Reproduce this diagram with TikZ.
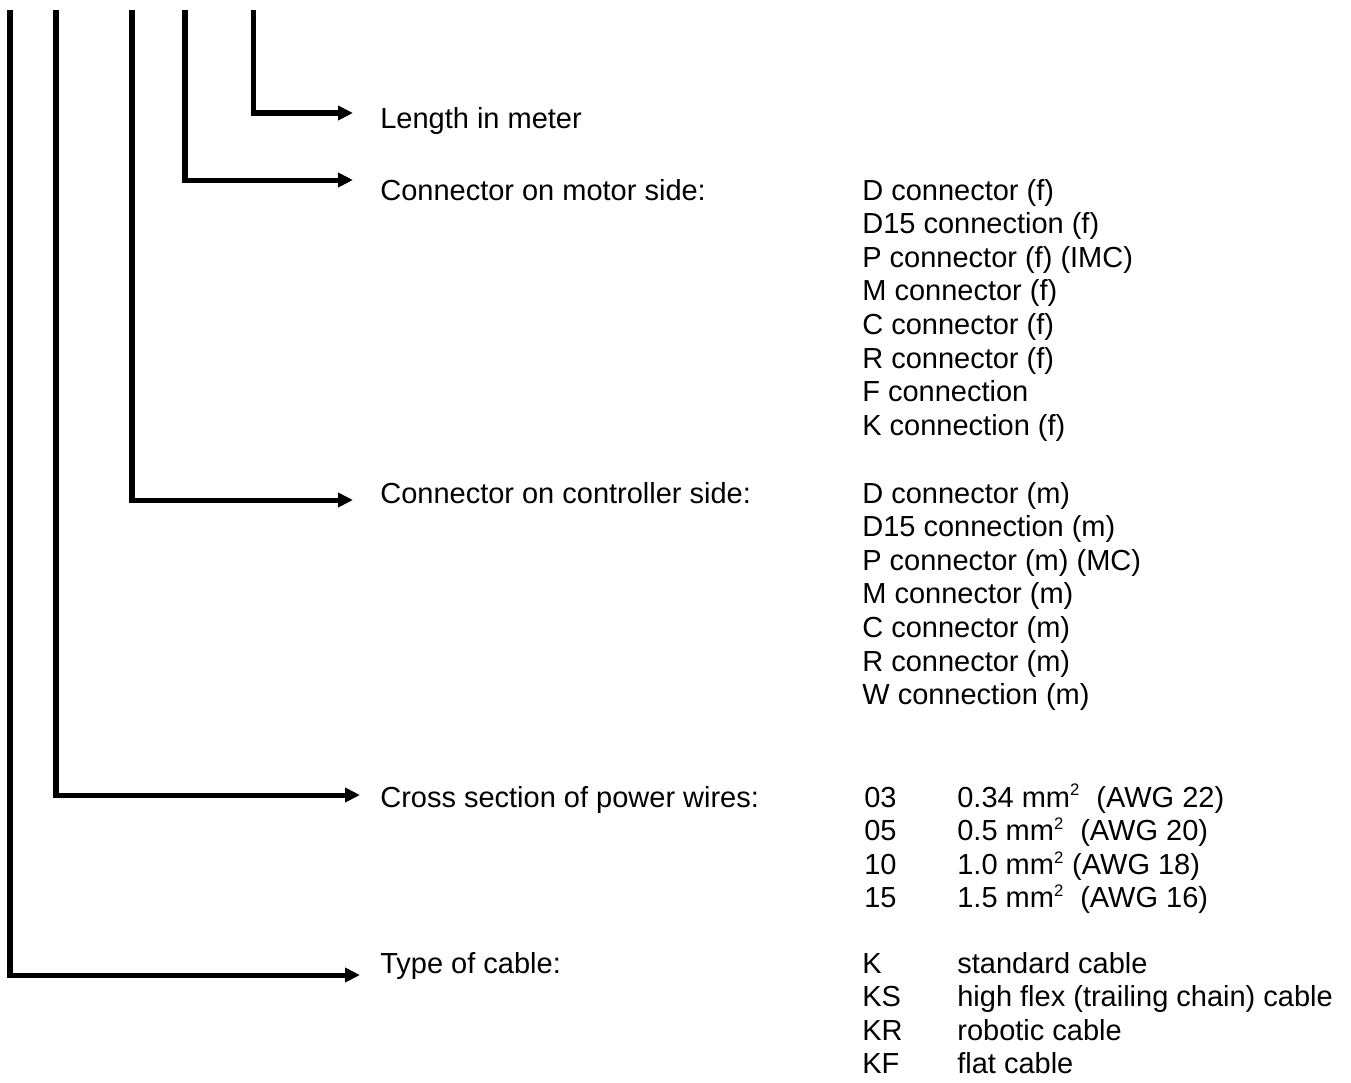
\documentclass[tikz,border=0pt]{standalone}
\usepackage{fontspec}
\setmainfont{Liberation Sans}
\usetikzlibrary{arrows.meta}
\newcommand{\sqr}{\textsuperscript{\fontsize{9.5}{9.5}\selectfont 2}}

\begin{document}
\begin{tikzpicture}[x=0.02cm, y=-0.02cm,
  wire/.style={line width=2.85pt, -{Triangle[length=0.3cm, width=0.28cm]}},
  lbl/.style={anchor=base west, inner sep=0pt, font=\fontsize{16.5}{19}\selectfont}]
  \useasboundingbox (0,0) rectangle (1351,1082);

  % Main labels
  \node[lbl] (length) at (380,128) {Length in meter};
  \node[lbl] (motor) at (380,200) {Connector on motor side:};
  \node[lbl] (ctrl) at (380,503) {Connector on controller side:};
  \node[lbl] (cross) at (380,807) {Cross section of power wires:};
  \node[lbl] (type) at (380,973) {Type of cable:};

  % Line tops and arrow ends
  \coordinate (lengthTop) at (253,10);
  \coordinate (motorTop) at (185,10);
  \coordinate (ctrlTop) at (132,10);
  \coordinate (crossTop) at (56,10);
  \coordinate (typeTop) at (10,10);
  \coordinate (lengthEnd) at (353,113);
  \coordinate (motorEnd) at (353,180);
  \coordinate (ctrlEnd) at (353,500);
  \coordinate (crossEnd) at (360,795);
  \coordinate (typeEnd) at (360,975);

  % Arrows
  \draw[wire] (lengthTop) |- (lengthEnd);
  \draw[wire] (motorTop) |- (motorEnd);
  \draw[wire] (ctrlTop) |- (ctrlEnd);
  \draw[wire] (crossTop) |- (crossEnd);
  \draw[wire] (typeTop) |- (typeEnd);

  % Option lists
  \foreach \txt [count=\i from 0] in {D connector (f), D15 connection (f),
      P connector (f) (IMC), M connector (f), C connector (f), R connector (f),
      F connection, K connection (f)}
    \node[lbl] (motor\i) at (862,200+33.6*\i) {\txt};
  \foreach \txt [count=\i from 0] in {D connector (m), D15 connection (m),
      P connector (m) (MC), M connector (m), C connector (m), R connector (m),
      W connection (m)}
    \node[lbl] (ctrl\i) at (862,503+33.6*\i) {\txt};
  \foreach \code/\txt [count=\i from 0] in {
      03/{0.34 mm\sqr\ \ (AWG 22)},
      05/{0.5 mm\sqr\ \ (AWG 20)},
      10/{1.0 mm\sqr\ (AWG 18)},
      15/{1.5 mm\sqr\ \ (AWG 16)}} {
    \node[lbl] (crossCode\i) at (864,807+33.6*\i) {\code};
    \node[lbl] (crossVal\i) at (957,807+33.6*\i) {\txt};
  }
  \foreach \code/\txt [count=\i from 0] in {K/standard cable,
      KS/high flex (trailing chain) cable, KR/robotic cable, KF/flat cable} {
    \node[lbl] (typeCode\i) at (862,973+33.6*\i) {\code};
    \node[lbl] (typeVal\i) at (957,973+33.6*\i) {\txt};
  }
\end{tikzpicture}
\end{document}
